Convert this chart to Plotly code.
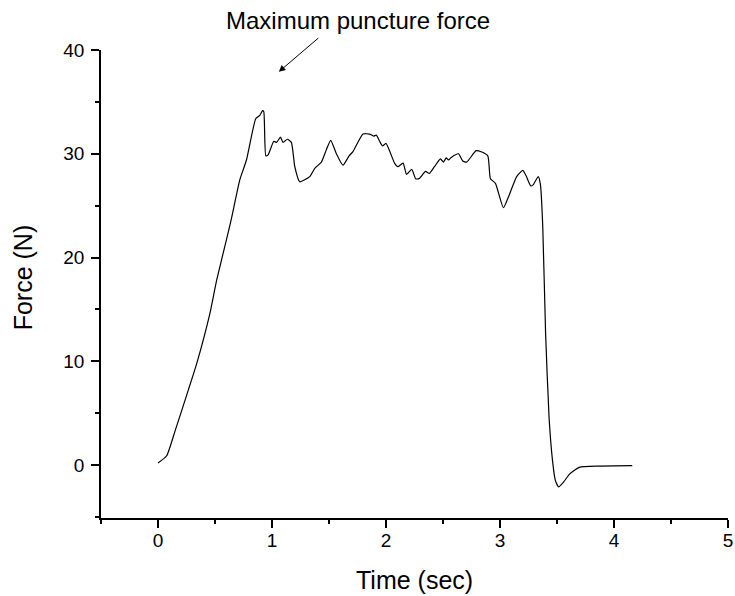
import plotly.graph_objects as go

time_sec = [0.0, 0.076, 0.15, 0.265, 0.34, 0.455, 0.514, 0.60, 0.645, 0.718, 0.776, 0.858, 0.893,
            0.917, 0.928, 0.946, 0.966, 1.016, 1.04, 1.074, 1.097, 1.135, 1.17, 1.2, 1.243, 1.331,
            1.375, 1.433, 1.477, 1.515, 1.565, 1.623, 1.676, 1.71, 1.798, 1.856, 1.891, 1.915, 1.944,
            1.97, 2.0, 2.075, 2.104, 2.15, 2.18, 2.226, 2.26, 2.29, 2.347, 2.38, 2.425, 2.478, 2.504,
            2.528, 2.548, 2.572, 2.636, 2.673, 2.708, 2.79, 2.835, 2.893, 2.916, 2.96, 3.03, 3.08,
            3.146, 3.2, 3.23, 3.27, 3.29, 3.336, 3.355, 3.375, 3.40, 3.43, 3.46, 3.485, 3.514, 3.56,
            3.61, 3.695, 3.87, 4.16]
force_n = [0.2, 0.9, 3.3, 7.2, 9.8, 14.6, 17.8, 21.7, 23.8, 27.5, 29.4, 33.4, 33.7,
           34.15, 34.05, 29.8, 29.9, 31.2, 31.1, 31.6, 31.1, 31.4, 31.1, 28.75, 27.3, 27.8,
           28.6, 29.2, 30.4, 31.3, 30.0, 28.9, 29.8, 30.2, 31.9, 31.9, 31.7, 31.8, 31.2,
           30.75, 31.0, 29.1, 28.75, 29.1, 28.0, 28.5, 27.6, 27.6, 28.3, 28.1, 28.75, 29.5, 29.2,
           29.6, 29.4, 29.65, 30.0, 29.3, 29.2, 30.3, 30.2, 29.8, 27.6, 27.15, 24.8, 26.0,
           27.8, 28.4, 27.85, 26.9, 27.0, 27.8, 27.0, 23.0, 12.7, 4.65, 0.5, -1.45, -2.1, -1.6,
           -0.87, -0.22, -0.1, -0.06]

x_ticks = [0, 1, 2, 3, 4, 5]
y_ticks = [0, 10, 20, 30, 40]

fig = go.Figure()
fig.add_trace(go.Scatter(x=time_sec, y=force_n, mode="lines",
                         line=dict(color="black", width=1.2, shape="spline", smoothing=0.5),
                         showlegend=False, hoverinfo="skip"))

font = "Liberation Sans, Arial, sans-serif"
axis_common = dict(showline=True, linecolor="black", linewidth=1.8, showgrid=False, zeroline=False,
                   automargin=False,
                   ticks="outside", ticklen=8, tickwidth=1.5, tickcolor="black",
                   tickfont=dict(family=font, size=19, color="black"),
                   minor=dict(ticks="outside", ticklen=4, tickwidth=1.5, tickcolor="black"))

fig.update_xaxes(range=[-0.5, 5], tickvals=x_ticks, minor_dtick=0.5, ticklabelstandoff=-4,
                 **axis_common)
fig.update_yaxes(range=[-5.1, 40], tickvals=y_ticks, minor_dtick=5, ticklabelstandoff=3,
                 **axis_common)

# axis titles
fig.add_annotation(x=0.5, y=-0.132, xref="paper", yref="paper", text="Time (sec)",
                   showarrow=False, xanchor="center", yanchor="middle",
                   font=dict(family=font, size=25, color="black"))
fig.add_annotation(x=-0.123, y=0.514, xref="paper", yref="paper", text="Force (N)",
                   showarrow=False, xanchor="center", yanchor="middle", textangle=-90,
                   font=dict(family=font, size=25, color="black"))

# callout
fig.add_annotation(x=1.06, y=37.9, xref="x", yref="y", ax=41, ay=-35, text="",
                   showarrow=True, arrowhead=2, arrowsize=1.3, arrowwidth=1, arrowcolor="black")
fig.add_annotation(x=0.41, y=1.064, xref="paper", yref="paper", text="Maximum puncture force",
                   showarrow=False, xanchor="center", yanchor="middle",
                   font=dict(family=font, size=24, color="black"))

fig.update_layout(width=735, height=596, margin=dict(l=101, r=7, t=50, b=78, autoexpand=False),
                  plot_bgcolor="white", paper_bgcolor="white")

fig.write_html("out.html", config={"displayModeBar": False},
               post_script="document.body.style.margin='0';document.body.style.overflow='hidden';")
